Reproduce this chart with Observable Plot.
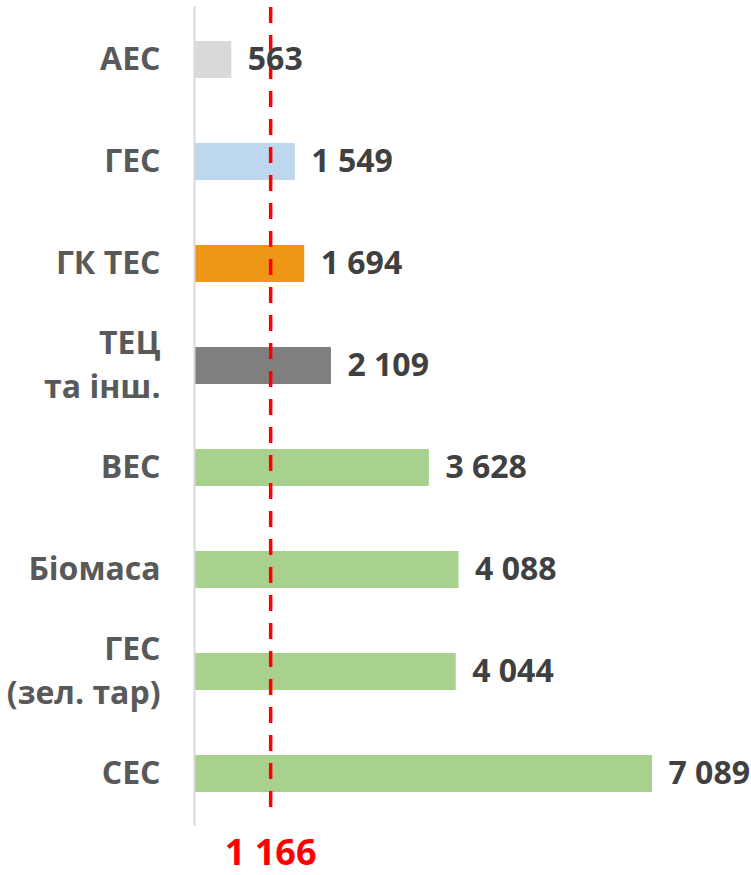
<!DOCTYPE html>
<html>
<head>
<meta charset="utf-8">
<script src="https://cdn.jsdelivr.net/npm/d3@7"></script>
<script src="https://cdn.jsdelivr.net/npm/@observablehq/plot@0.6"></script>
<style>
  html, body { margin: 0; padding: 0; background: #fff; }
  #chart svg { display: block; font-family: "Open Sans", sans-serif; }
</style>
</head>
<body>
<div id="chart"></div>
<script>
const categories = ["АЕС", "ГЕС", "ГК ТЕС", "ТЕЦ\nта інш.", "ВЕС", "Біомаса", "ГЕС\n(зел. тар)", "СЕС"];
const values = [563, 1549, 1694, 2109, 3628, 4088, 4044, 7089];
const colors = ["#d9d9d9", "#bdd7ee", "#ee9615", "#7f7f7f", "#a9d18e", "#a9d18e", "#a9d18e", "#a9d18e"];
const average = 1166;

const data = categories.map((c, i) => ({category: c, value: values[i], color: colors[i]}));
const fmt = v => d3.format(",")(v).replace(/,/g, " ");

const chart = Plot.plot({
  width: 751,
  height: 875,
  marginLeft: 195,
  marginRight: 99,
  marginTop: 6,
  marginBottom: 49,
  style: {fontFamily: "Open Sans, sans-serif", background: "#fff", overflow: "visible"},
  x: {domain: [0, 7089], axis: null},
  y: {domain: categories, paddingInner: 0.64, paddingOuter: 0.32, label: null},
  marks: [
    Plot.barX(data, {y: "category", x: "value", fill: "color"}),
    Plot.ruleX([0], {stroke: "#d9d9d9", strokeWidth: 2, dx: -1}),
    Plot.ruleX([average], {stroke: "#ff0000", strokeWidth: 3.5, strokeDasharray: "16,12", strokeDashoffset: -1, insetBottom: 8}),
    Plot.text(data, {y: "category", x: "value", text: d => fmt(d.value), textAnchor: "start", dx: 16, fontSize: 32, fontWeight: "bold", fill: "#404040"}),
    Plot.axisY({tickSize: 0, tickPadding: 35, dy: -4, fontSize: 32, fontWeight: "bold", color: "#595959", lineHeight: 1.37, label: null}),
    Plot.text([average], {x: d => d, frameAnchor: "bottom", dy: 26.5, text: d => fmt(d), fontSize: 36, fontWeight: "bold", fill: "#ff0000", lineAnchor: "middle"})
  ]
});
document.getElementById("chart").append(chart);
</script>
</body>
</html>
